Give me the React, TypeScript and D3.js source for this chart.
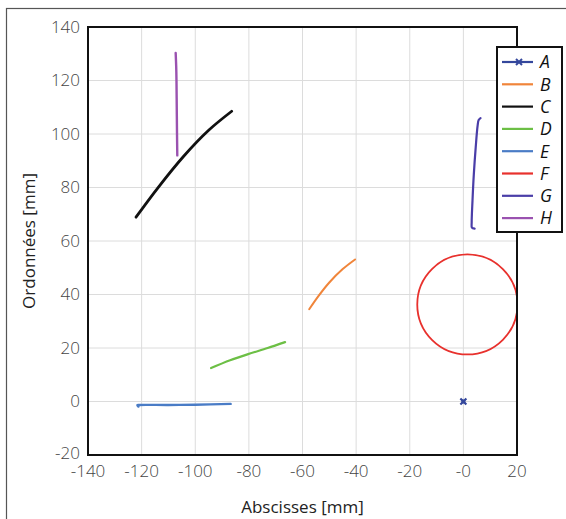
import React from "react";
import * as d3 from "d3";

const xTicks = [-140, -120, -100, -80, -60, -40, -20, 0, 20];
const xTickLabels = ["-140", "-120", "-100", "-80", "-60", "-40", "-20", "-0", "20"];
const yTicks = [-20, 0, 20, 40, 60, 80, 100, 120, 140];

const seriesNames = ["A", "B", "C", "D", "E", "F", "G", "H"];
const seriesColors = ["#34479c", "#f0853a", "#111111", "#6cbf45", "#4a7cc6", "#e8312d", "#4a3ea8", "#9a52b0"];

const A: [number, number][] = [[0, 0]];
const B: [number, number][] = [[-57.5, 34.5], [-54, 39.5], [-50, 44.5], [-45, 49.5], [-40.4, 53.1]];
const C: [number, number][] = [[-122.1, 68.9], [-114, 79.8], [-104.4, 91.6], [-95, 101.4], [-86.4, 108.5]];
const D: [number, number][] = [[-94.1, 12.5], [-87, 15.4], [-80.3, 17.7], [-73, 20], [-66.5, 22.2]];
const E: [number, number][] = [[-121.2, -1.9], [-121.6, -1.4], [-121, -1.3], [-110, -1.3], [-100, -1.2], [-86.8, -0.9]];
const Fcenter: [number, number] = [1.5, 36.3];
const Fradius = 18.7;
const G: [number, number][] = [[6.4, 105.9], [5.7, 105.2], [5.3, 103], [4.6, 95], [3.9, 85], [3.4, 75], [3.1, 67], [3.2, 65], [4.2, 64.6]];
const H: [number, number][] = [[-107.3, 130.3], [-107.1, 125], [-107, 120], [-106.9, 110], [-106.8, 100], [-106.7, 92]];

export default function App() {
  const W = 566, Hh = 519;
  const left = 88, right = 517, top = 27, bottom = 455;
  const x = d3.scaleLinear().domain([-140, 20]).range([left, right]);
  const y = d3.scaleLinear().domain([-20, 140]).range([bottom, top]);
  const line = d3.line<[number, number]>().x(d => x(d[0])).y(d => y(d[1])).curve(d3.curveCatmullRom);
  const font = "'Open Sans', 'Noto Sans', sans-serif";
  const lines: { data: [number, number][]; i: number; w: number }[] = [
    { data: B, i: 1, w: 2 },
    { data: C, i: 2, w: 2.8 },
    { data: D, i: 3, w: 2.2 },
    { data: E, i: 4, w: 2.4 },
    { data: G, i: 6, w: 2.2 },
    { data: H, i: 7, w: 2.4 },
  ];
  const legX = 497, legY = 47, legW = 65, legH = 185;
  const legStep = 22.3;
  return (
    <svg width={W} height={Hh} style={{ position: "absolute", left: 0, top: 0 }}>
      <rect x={0} y={0} width={W} height={Hh} fill="#fff" />
      <rect x={6.5} y={8.5} width={W + 20} height={Hh + 20} fill="none" stroke="#555" strokeWidth={1.2} />
      <defs>
        <clipPath id="plotclip">
          <rect x={left} y={top} width={right - left + 1} height={bottom - top} />
        </clipPath>
      </defs>
      {xTicks.map(t => (
        <line key={"gx" + t} x1={x(t)} x2={x(t)} y1={top} y2={bottom} stroke="#dcdcdc" strokeWidth={1} />
      ))}
      {yTicks.map(t => (
        <line key={"gy" + t} x1={left} x2={right} y1={y(t)} y2={y(t)} stroke="#dcdcdc" strokeWidth={1} />
      ))}
      <g clipPath="url(#plotclip)">
        {lines.map(l => (
          <path key={l.i} d={line(l.data) || ""} fill="none" stroke={seriesColors[l.i]} strokeWidth={l.w} strokeLinecap="round" />
        ))}
        <ellipse cx={x(Fcenter[0])} cy={y(Fcenter[1])} rx={x(Fcenter[0] + Fradius) - x(Fcenter[0])} ry={y(Fcenter[1]) - y(Fcenter[1] + Fradius)} fill="none" stroke={seriesColors[5]} strokeWidth={1.8} />
        {A.map((p, k) => (
          <g key={k} transform={`translate(${x(p[0])},${y(p[1])})`} stroke={seriesColors[0]} strokeWidth={2.2}>
            <line x1={-3} y1={-3} x2={3} y2={3} />
            <line x1={-3} y1={3} x2={3} y2={-3} />
            <rect x={-2} y={-2} width={4} height={4} fill={seriesColors[0]} stroke="none" />
          </g>
        ))}
      </g>
      <rect x={left} y={top} width={right - left} height={bottom - top} fill="none" stroke="#111" strokeWidth={2} />
      {yTicks.map(t => (
        <text key={"ty" + t} x={80} y={t === -20 ? y(t) - 2 : y(t)} dy="0.35em" textAnchor="end" fontFamily={font} fontWeight={300} fontSize={17} fill="#444">{t}</text>
      ))}
      {xTicks.map((t, k) => (
        <text key={"tx" + t} x={x(t)} y={477} textAnchor="middle" fontFamily={font} fontWeight={300} fontSize={17} fill="#444">{xTickLabels[k]}</text>
      ))}
      <text x={(left + right) / 2} y={513} textAnchor="middle" fontFamily={font} fontSize={17} fill="#222">Abscisses [mm]</text>
      <text transform={`translate(35,${(top + bottom) / 2}) rotate(-90)`} textAnchor="middle" fontFamily={font} fontSize={17} fill="#222">Ordonnées [mm]</text>
      <g>
        <rect x={legX} y={legY} width={legW} height={legH} fill="#fff" stroke="#111" strokeWidth={2} />
        {seriesNames.map((n, k) => {
          const yy = legY + 15 + k * legStep;
          return (
            <g key={n}>
              <line x1={502} x2={533} y1={yy} y2={yy} stroke={seriesColors[k]} strokeWidth={2.2} />
              {k === 0 && (
                <g transform={`translate(519,${yy})`} stroke={seriesColors[0]} strokeWidth={2}>
                  <line x1={-3} y1={-3} x2={3} y2={3} />
                  <line x1={-3} y1={3} x2={3} y2={-3} />
                </g>
              )}
              <text x={540} y={yy} dy="0.36em" fontFamily={font} fontStyle="italic" fontSize={17.5} fill="#111">{n}</text>
            </g>
          );
        })}
      </g>
    </svg>
  );
}
